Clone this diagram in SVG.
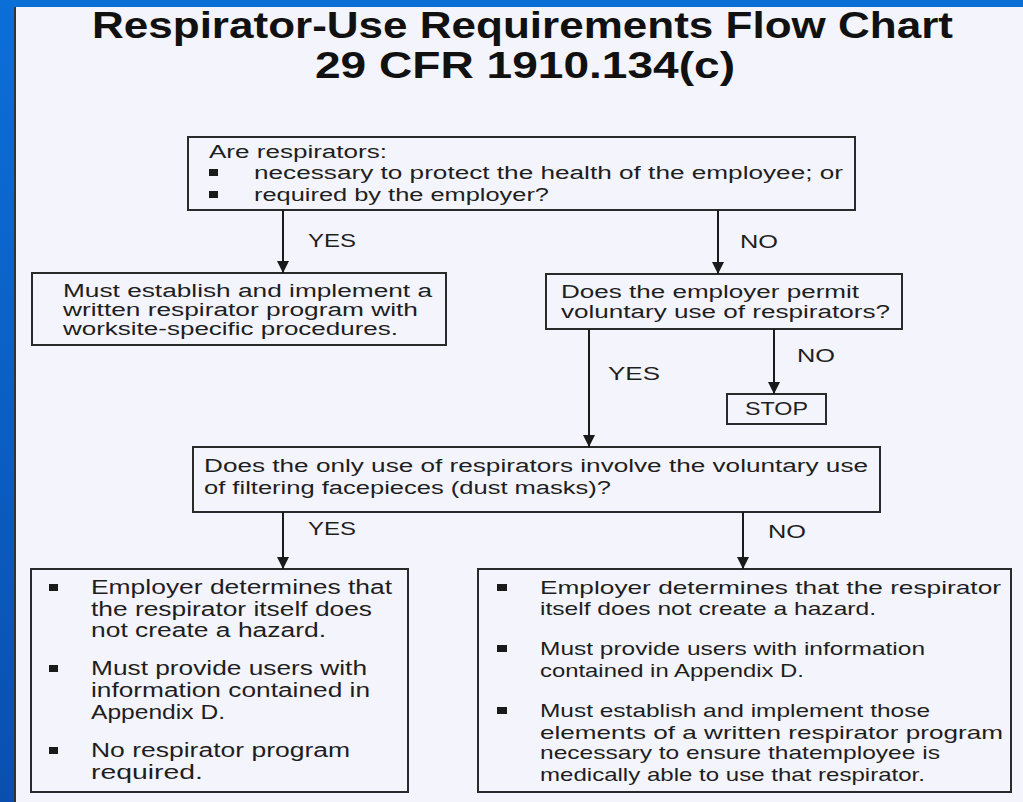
<svg xmlns="http://www.w3.org/2000/svg" width="1023" height="802" viewBox="0 0 1023 802">
<defs>
<linearGradient id="bgL" x1="0" y1="0" x2="0" y2="1">
<stop offset="0" stop-color="#0b6fd8"/><stop offset="1" stop-color="#0a4fb0"/>
</linearGradient>
<marker id="ah" viewBox="0 0 10 10" refX="10" refY="5" markerWidth="12" markerHeight="12" markerUnits="userSpaceOnUse" orient="auto">
<path d="M0,0 L10,5 L0,10 Z" fill="#1a1a1a"/>
</marker>
<style>
.box{fill:none;stroke:#2a2a2a;stroke-width:2}
.t{font-family:"Liberation Sans",Arial,sans-serif;fill:#1e1e1e}
.s{font-size:18px}
.m{font-size:19px}
.l{font-size:20px}
.title{font-family:"Liberation Sans Narrow","Liberation Sans",Arial,sans-serif;font-weight:bold;font-size:36px;fill:#111}
.b{fill:#1a1a1a}
.c{stroke:#1a1a1a;stroke-width:2;fill:none;marker-end:url(#ah)}
</style>
</defs>
<rect x="0" y="0" width="1023" height="802" fill="#f4f4fc"/>
<rect x="0" y="0" width="1023" height="7" fill="#0b6fd8"/>
<rect x="0" y="0" width="14" height="802" fill="url(#bgL)"/>
<rect x="14" y="7" width="2" height="795" fill="#333"/>

<g id="title">
<text class="title" x="92" y="38" textLength="861" lengthAdjust="spacingAndGlyphs">Respirator-Use Requirements Flow Chart</text>
<text class="title" x="315" y="78" textLength="420" lengthAdjust="spacingAndGlyphs">29 CFR 1910.134(c)</text>
</g>

<g id="q1">
<rect class="box" x="188" y="137" width="667" height="73"/>
<text class="t s" x="209" y="158" textLength="178" lengthAdjust="spacingAndGlyphs">Are respirators:</text>
<rect class="b" x="209" y="169" width="9" height="7"/>
<text class="t s" x="254" y="179" textLength="589" lengthAdjust="spacingAndGlyphs">necessary to protect the health of the employee; or</text>
<rect class="b" x="209" y="191" width="9" height="7"/>
<text class="t s" x="254" y="201" textLength="295" lengthAdjust="spacingAndGlyphs">required by the employer?</text>
</g>

<g id="program">
<rect class="box" x="32" y="273" width="414" height="72"/>
<text class="t s" x="63" y="297" textLength="369" lengthAdjust="spacingAndGlyphs">Must establish and implement a</text>
<text class="t s" x="63" y="316" textLength="355" lengthAdjust="spacingAndGlyphs">written respirator program with</text>
<text class="t s" x="63" y="335" textLength="335" lengthAdjust="spacingAndGlyphs">worksite-specific procedures.</text>
</g>

<g id="q2">
<rect class="box" x="546" y="274" width="356" height="55"/>
<text class="t s" x="561" y="298" textLength="298" lengthAdjust="spacingAndGlyphs">Does the employer permit</text>
<text class="t s" x="561" y="318" textLength="329" lengthAdjust="spacingAndGlyphs">voluntary use of respirators?</text>
</g>

<g id="stop">
<rect class="box" x="727" y="394" width="99" height="30"/>
<text class="t s" x="745" y="415" textLength="63" lengthAdjust="spacingAndGlyphs">STOP</text>
</g>

<g id="q3">
<rect class="box" x="193" y="447" width="687" height="65"/>
<text class="t s" x="204" y="472" textLength="664" lengthAdjust="spacingAndGlyphs">Does the only use of respirators involve the voluntary use</text>
<text class="t s" x="204" y="494" textLength="407" lengthAdjust="spacingAndGlyphs">of filtering facepieces (dust masks)?</text>
</g>

<g id="yesResult">
<rect class="box" x="31" y="569" width="377" height="223"/>
<rect class="b" x="49" y="584" width="9" height="7"/>
<text class="t l" x="91" y="594" textLength="301" lengthAdjust="spacingAndGlyphs">Employer determines that</text>
<text class="t l" x="91" y="616" textLength="281" lengthAdjust="spacingAndGlyphs">the respirator itself does</text>
<text class="t l" x="91" y="637" textLength="235" lengthAdjust="spacingAndGlyphs">not create a hazard.</text>
<rect class="b" x="49" y="665" width="9" height="7"/>
<text class="t l" x="91" y="675" textLength="276" lengthAdjust="spacingAndGlyphs">Must provide users with</text>
<text class="t l" x="91" y="697" textLength="279" lengthAdjust="spacingAndGlyphs">information contained in</text>
<text class="t l" x="91" y="719" textLength="134" lengthAdjust="spacingAndGlyphs">Appendix D.</text>
<rect class="b" x="49" y="747" width="9" height="7"/>
<text class="t l" x="91" y="757" textLength="259" lengthAdjust="spacingAndGlyphs">No respirator program</text>
<text class="t l" x="91" y="779" textLength="112" lengthAdjust="spacingAndGlyphs">required.</text>
</g>

<g id="noResult">
<rect class="box" x="478" y="569" width="533" height="223"/>
<rect class="b" x="497" y="584" width="10" height="7"/>
<text class="t m" x="540" y="594" textLength="461" lengthAdjust="spacingAndGlyphs">Employer determines that the respirator</text>
<text class="t m" x="540" y="615" textLength="336" lengthAdjust="spacingAndGlyphs">itself does not create a hazard.</text>
<rect class="b" x="497" y="645" width="10" height="7"/>
<text class="t m" x="540" y="655" textLength="385" lengthAdjust="spacingAndGlyphs">Must provide users with information</text>
<text class="t m" x="540" y="677" textLength="264" lengthAdjust="spacingAndGlyphs">contained in Appendix D.</text>
<rect class="b" x="497" y="707" width="10" height="7"/>
<text class="t m" x="540" y="717" textLength="390" lengthAdjust="spacingAndGlyphs">Must establish and implement those</text>
<text class="t m" x="540" y="739" textLength="463" lengthAdjust="spacingAndGlyphs">elements of a written respirator program</text>
<text class="t m" x="540" y="759" textLength="400" lengthAdjust="spacingAndGlyphs">necessary to ensure thatemployee is</text>
<text class="t m" x="540" y="781" textLength="385" lengthAdjust="spacingAndGlyphs">medically able to use that respirator.</text>
</g>

<g id="connectors">
<line class="c" x1="283" y1="210" x2="283" y2="273"/>
<text class="t s" x="308" y="247" textLength="48" lengthAdjust="spacingAndGlyphs">YES</text>
<line class="c" x1="718" y1="210" x2="718" y2="274"/>
<text class="t s" x="740" y="248" textLength="38" lengthAdjust="spacingAndGlyphs">NO</text>
<line class="c" x1="589" y1="329" x2="589" y2="447"/>
<text class="t s" x="608" y="380" textLength="52" lengthAdjust="spacingAndGlyphs">YES</text>
<line class="c" x1="774" y1="329" x2="774" y2="394"/>
<text class="t s" x="797" y="362" textLength="38" lengthAdjust="spacingAndGlyphs">NO</text>
<line class="c" x1="283" y1="512" x2="283" y2="569"/>
<text class="t s" x="308" y="535" textLength="48" lengthAdjust="spacingAndGlyphs">YES</text>
<line class="c" x1="743" y1="512" x2="743" y2="569"/>
<text class="t s" x="768" y="538" textLength="38" lengthAdjust="spacingAndGlyphs">NO</text>
</g>
</svg>
